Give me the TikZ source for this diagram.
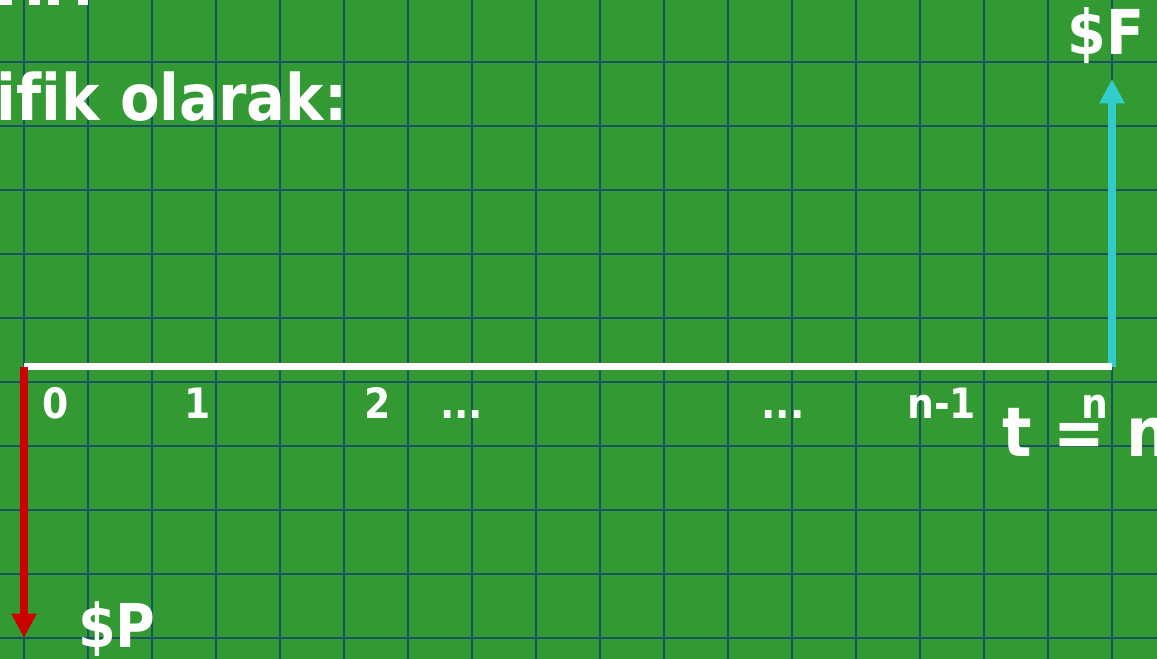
\documentclass[tikz,border=0pt]{standalone}
\usepackage{fontspec}
\setmainfont{DejaVu Sans}[FakeStretch=0.9, Ligatures=NoCommon]
\usetikzlibrary{arrows.meta}

\definecolor{slidegreen}{RGB}{51,153,51}
\definecolor{gridteal}{RGB}{22,84,96}
\definecolor{flowred}{RGB}{204,0,0}
\definecolor{flowcyan}{RGB}{51,204,204}

\begin{document}
\begin{tikzpicture}[
  ticklabel/.style={text=white, inner sep=0pt, anchor=base, font=\bfseries\fontsize{18.6}{20}\selectfont},
  biglabel/.style={text=white, inner sep=0pt, anchor=base, font=\bfseries\fontsize{28.5}{32}\selectfont},
  flow/.style={line width=3.4pt, -{Triangle[width=3.7mm,length=3.8mm]}}
]

% background and page size
\fill[slidegreen] (-0.375,-4.5625) rectangle (17.703,5.734);
\useasboundingbox (-0.375,-4.5625) rectangle (17.703,5.734);

%grid
\draw[gridteal, line width=0.9pt, yshift=-0.242cm] (-0.375,-4.32) grid (17.703,5.97);

% bottoms of the cut off line above
\foreach \a/\b in {-0.375/-0.1875, 0.078/0.25, 0.375/0.547, 0.844/1.0}
  \fill[white] (\a,5.656) rectangle (\b,5.734);

\node[biglabel, anchor=base west] (grafik) at (-0.43,3.844) {ifik olarak:};

% Define coordinates
\coordinate (t0) at (0,0);
\coordinate (tn) at (17,0);
\coordinate (ptip) at (0,-4.234);
\coordinate (ftip) at (17,4.5);

% future value
\draw[flow, flowcyan] (tn) -- (ftip);

% time axis
\draw[white, line width=3.1pt] (t0) -- (tn);

% present value
\draw[flow, flowred] (t0) -- (ptip);

% period labels
\node[ticklabel] (lab0) at (0.5,-0.8125) {0};
\node[ticklabel] (lab1) at (2.72,-0.8125) {1};
\node[ticklabel] (lab2) at (5.52,-0.8125) {2};
\node[ticklabel] (dotsA) at (6.84,-0.8125) {...};
\node[ticklabel] (dotsB) at (11.86,-0.8125) {...};
\node[ticklabel] (labnm1) at (14.34,-0.8125) {n-1};
\node[ticklabel] (labn) at (16.73,-0.8125) {n};

\node[biglabel, anchor=base west, font=\bfseries\fontsize{30.5}{34}\selectfont] (tlabel) at (15.28,-1.406) {t = n};

% cash flows
\node[biglabel, font=\bfseries\fontsize{27.5}{30}\selectfont] (flab) at (16.91,4.875) {\$F};
\node[biglabel, font=\bfseries\fontsize{26.8}{30}\selectfont] (plab) at (1.45,-4.39) {\$P};

\end{tikzpicture}
\end{document}
